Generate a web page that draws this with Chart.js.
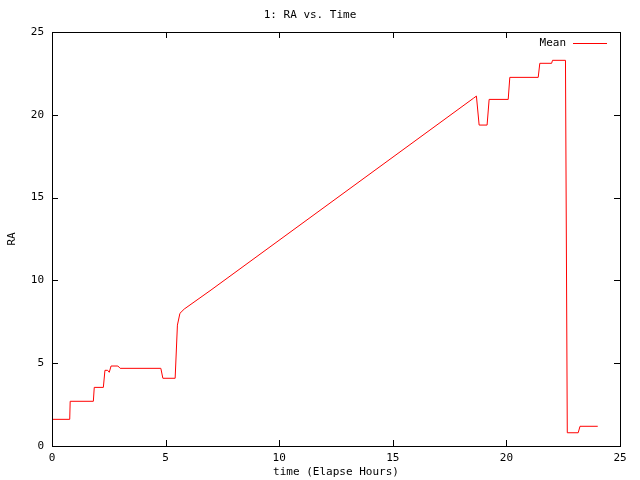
<!DOCTYPE html>
<html>
<head>
<meta charset="utf-8">
<script src="https://cdn.jsdelivr.net/npm/chart.js@4/dist/chart.umd.min.js"></script>
<style>
  html, body { margin: 0; padding: 0; background: #fff; }
  #wrap { width: 640px; height: 480px; }
</style>
</head>
<body>
<div id="wrap"><canvas id="ra" width="640" height="480"></canvas></div>
<script>
// elapsed hours and mean RA
const hours = [0, 0.78, 0.8, 1.82, 1.86, 2.26, 2.33, 2.45, 2.52, 2.6, 2.9, 3.0,
  4.79, 4.88, 5.42, 5.45, 5.52, 5.63, 5.82, 7.0, 18.55, 18.68, 18.8, 19.15,
  19.24, 20.08, 20.15, 21.4, 21.47, 21.99, 22.03, 22.6, 22.68, 23.16, 23.24, 24.02]
const meanRA = [1.61, 1.61, 2.70, 2.70, 3.54, 3.54, 4.57, 4.57, 4.45, 4.83, 4.83, 4.69,
  4.69, 4.09, 4.09, 4.09, 7.3, 8.01, 8.27, 9.42, 21.0, 21.13, 19.38, 19.38,
  20.93, 20.93, 22.26, 22.26, 23.11, 23.11, 23.29, 23.29, 0.80, 0.80, 1.19, 1.19]
const xTicks = [0, 5, 10, 15, 20, 25]
const yTicks = [0, 5, 10, 15, 20, 25]

const mono = 'DejaVu Sans Mono'

// gnuplot style frame: full box, ticks pointing inwards on all sides, key in the corner
const frame = {
  id: 'frame',
  afterDraw(chart) {
    const ctx = chart.ctx
    const a = chart.chartArea
    const sx = chart.scales.x, sy = chart.scales.y
    ctx.save()
    ctx.strokeStyle = '#000'
    ctx.lineWidth = 1
    ctx.strokeRect(Math.round(a.left) + 0.5, Math.round(a.top) + 0.5,
      Math.round(a.right - a.left), Math.round(a.bottom - a.top))
    ctx.beginPath()
    xTicks.forEach(v => {
      const px = Math.round(sx.getPixelForValue(v)) + 0.5
      ctx.moveTo(px, a.bottom); ctx.lineTo(px, a.bottom - 6)
      ctx.moveTo(px, a.top); ctx.lineTo(px, a.top + 6)
    })
    yTicks.forEach(v => {
      const py = Math.round(sy.getPixelForValue(v)) + 0.5
      ctx.moveTo(a.left, py); ctx.lineTo(a.left + 6, py)
      ctx.moveTo(a.right, py); ctx.lineTo(a.right - 6, py)
    })
    ctx.stroke()

    const ds = chart.data.datasets[0]
    const ky = Math.round(a.top + 11) + 0.5
    ctx.strokeStyle = ds.borderColor
    ctx.beginPath()
    ctx.moveTo(a.right - 47, ky); ctx.lineTo(a.right - 13, ky)
    ctx.stroke()
    ctx.fillStyle = '#000'
    ctx.font = '11px ' + mono
    ctx.textAlign = 'right'
    ctx.textBaseline = 'middle'
    ctx.fillText(ds.label, a.right - 54, ky)
    ctx.restore()
  }
}

new Chart(document.getElementById('ra'), {
  type: 'scatter',
  data: {
    datasets: [{
      label: 'Mean',
      data: hours.map((h, i) => ({ x: h, y: meanRA[i] })),
      showLine: true,
      borderColor: '#ff0000',
      backgroundColor: '#ff0000',
      borderWidth: 1,
      pointRadius: 0,
      tension: 0
    }]
  },
  options: {
    responsive: false,
    devicePixelRatio: 1,
    animation: false,
    layout: { padding: { left: 0, right: 20, top: 0, bottom: 0 } },
    plugins: {
      legend: { display: false },
      tooltip: { enabled: false },
      title: {
        display: true,
        text: '1: RA vs. Time',
        color: '#000',
        font: { family: mono, size: 11, weight: 'normal', lineHeight: 1.0909 },
        padding: { top: 9, bottom: 11 }
      }
    },
    scales: {
      x: {
        type: 'linear',
        min: 0, max: 25,
        afterBuildTicks: s => { s.ticks = xTicks.map(v => ({ value: v })) },
        afterFit: s => { s.height = 34 },
        grid: { display: false, drawTicks: false },
        border: { display: false },
        ticks: { color: '#000', padding: 6, maxRotation: 0, font: { family: mono, size: 11 } },
        title: {
          display: true, text: 'time (Elapse Hours)', color: '#000',
          font: { family: mono, size: 11, lineHeight: 1.0909 },
          padding: { top: 0, bottom: 2 }
        }
      },
      y: {
        type: 'linear',
        min: 0, max: 25,
        afterBuildTicks: s => { s.ticks = yTicks.map(v => ({ value: v })) },
        afterFit: s => { s.width = 52 },
        grid: { display: false, drawTicks: false },
        border: { display: false },
        ticks: { color: '#000', padding: 8, font: { family: mono, size: 11 } },
        title: {
          display: true, text: 'RA', color: '#000',
          font: { family: mono, size: 11, lineHeight: 1.0909 },
          padding: { top: 6, bottom: 0 }
        }
      }
    }
  },
  plugins: [frame]
})
</script>
</body>
</html>
